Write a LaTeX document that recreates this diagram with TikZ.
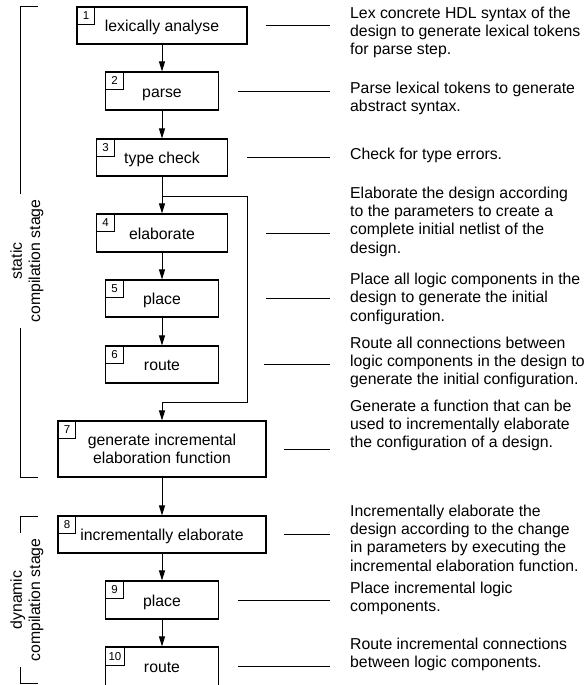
\documentclass[tikz,border=0pt]{standalone}
\usepackage{fontspec}
\setmainfont{Liberation Sans}
\usetikzlibrary{arrows.meta}
\begin{document}
\begin{tikzpicture}[x=1pt,y=-1pt,
  box/.style={draw, line width=1.1pt, inner sep=0pt, align=center, font=\fontsize{15.8}{18.3}\selectfont},
  one/.style={text height=12pt, text depth=0pt},
  numbox/.style={draw, line width=1pt, minimum size=18pt, inner sep=0pt, anchor=north west, font=\fontsize{11.5}{12}\selectfont},
  desc/.style={anchor=north west, align=left, inner sep=0pt, font=\fontsize{15.8}{18.3}\selectfont},
  stage/.style={rotate=90, align=center, inner sep=0pt, font=\fontsize{15.8}{18.3}\selectfont},
  ln/.style={line width=1pt},
  arr/.style={line width=1pt, -{Triangle[length=10pt,width=6pt]}}]
\useasboundingbox (0,0) rectangle (587,685);

% boxes
\node[box,one,minimum width=170pt,minimum height=37pt] (b1) at (162,25.5) {lexically analyse};
\node[box,one,minimum width=113pt,minimum height=38pt] (b2) at (162,91) {parse};
\node[box,one,minimum width=131pt,minimum height=37pt] (b3) at (162,157.5) {type check};
\node[box,one,minimum width=131pt,minimum height=38pt] (b4) at (162,233) {elaborate};
\node[box,one,minimum width=113pt,minimum height=37pt] (b5) at (162,298.5) {place};
\node[box,one,minimum width=113pt,minimum height=37pt] (b6) at (162,364.5) {route};
\node[box,minimum width=208pt,minimum height=56pt,text depth=0pt] (b7) at (162,449) {generate incremental\\elaboration function};
\node[box,one,minimum width=208pt,minimum height=37pt] (b8) at (162,534.5) {incrementally elaborate};
\node[box,one,minimum width=113pt,minimum height=38pt] (b9) at (162,600) {place};
\node[box,one,minimum width=113pt,minimum height=39pt] (b10) at (162,666.5) {route};

% number boxes
\node[numbox] (n1) at (b1.north west) {1};
\node[numbox] (n2) at (b2.north west) {2};
\node[numbox] (n3) at (b3.north west) {3};
\node[numbox] (n4) at (b4.north west) {4};
\node[numbox] (n5) at (b5.north west) {5};
\node[numbox] (n6) at (b6.north west) {6};
\node[numbox] (n7) at (b7.north west) {7};
\node[numbox] (n8) at (b8.north west) {8};
\node[numbox] (n9) at (b9.north west) {9};
\node[numbox,minimum size=19pt] (n10) at (b10.north west) {10};

% descriptions
\node[desc] (d1) at (350,6.5) {Lex concrete HDL syntax of the\\design to generate lexical tokens\\for parse step.};
\node[desc] (d2) at (350,81.5) {Parse lexical tokens to generate\\abstract syntax.};
\node[desc] (d3) at (350,147.5) {Check for type errors.};
\node[desc] (d4) at (350,186.5) {Elaborate the design according\\to the parameters to create a\\complete initial netlist of the\\design.};
\node[desc] (d5) at (350,273) {Place all logic components in the\\design to generate the initial\\configuration.};
\node[desc] (d6) at (350,336.5) {Route all connections between\\logic components in the design to\\generate the initial configuration.};
\node[desc] (d7) at (350,399.5) {Generate a function that can be\\used to incrementally elaborate\\the configuration of a design.};
\node[desc] (d8) at (350,504.5) {Incrementally elaborate the\\design according to the change\\in parameters by executing the\\incremental elaboration function.};
\node[desc] (d9) at (350,581.5) {Place incremental logic\\components.};
\node[desc] (d10) at (350,638) {Route incremental connections\\between logic components.};

% stage labels
\node[stage] (s1) at (27,261) {static\\compilation stage};
\node[stage] (s2) at (27,600) {dynamic\\compilation stage};

% brackets
\draw[ln] (38,7) -- (20,7) -- (20,194);
\draw[ln] (20,328) -- (20,477) -- (38,477);
\draw[ln] (38,516) -- (20,516) -- (20,533);
\draw[ln] (20,667) -- (20,683) -- (38,683);

% flow arrows
\draw[arr] (b1) -- (b2);
\draw[arr] (b2) -- (b3);
\draw[arr] (b3) -- (b4);
\draw[arr] (b4) -- (b5);
\draw[arr] (b5) -- (b6);
\draw[arr] (b7) -- (b8);
\draw[arr] (b8) -- (b9);
\draw[arr] (b9) -- (b10);

% bypass
\coordinate (j1) at (162,196);
\coordinate (k1) at (247,196);
\coordinate (j2) at (162,402);
\draw[ln] (j1) -- (k1) |- (j2);
\draw[arr] (j2) -- (b7.north);

% description connectors
\draw[ln] ([xshift=18pt]b1.east) -- ([xshift=-20pt]d1.west |- b1.east);
\draw[ln] ([xshift=19pt]b2.east) -- ([xshift=-20pt]d2.west |- b2.east);
\draw[ln] ([xshift=19pt]b3.east) -- ([xshift=-20pt]d3.west |- b3.east);
\draw[ln] ([xshift=38pt]b4.east) -- ([xshift=-20pt]d4.west |- b4.east);
\draw[ln] ([xshift=47pt]b5.east) -- ([xshift=-20pt]d5.west |- b5.east);
\draw[ln] ([xshift=45pt]b6.east) -- ([xshift=-20pt]d6.west |- b6.east);
\draw[ln] ([xshift=17pt]b7.east) -- ([xshift=-20pt]d7.west |- b7.east);
\draw[ln] ([xshift=17pt]b8.east) -- ([xshift=-20pt]d8.west |- b8.east);
\draw[ln] ([xshift=19pt]b9.east) -- ([xshift=-20pt]d9.west |- b9.east);
\draw[ln] ([xshift=19pt]b10.east) -- ([xshift=-20pt]d10.west |- b10.east);
\end{tikzpicture}
\end{document}
